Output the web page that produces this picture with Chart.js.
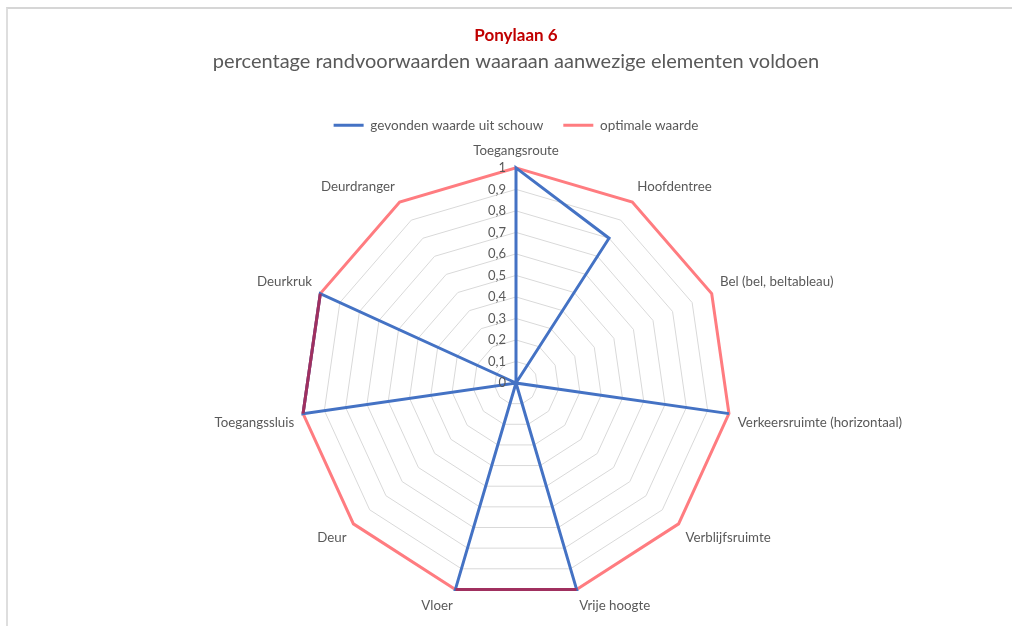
<!DOCTYPE html>
<html>
<head>
<meta charset="utf-8">
<script src="https://cdn.jsdelivr.net/npm/chart.js@4.4.1/dist/chart.umd.min.js"></script>
<style>
  html, body { margin: 0; padding: 0; background: #fff; }
  #wrap { position: absolute; left: 0; top: 0; width: 1012px; height: 626px; }
  #frame { position: absolute; left: 6px; top: 7px; width: 1006px; height: 619px;
           border-top: 2px solid #d6d6d6; border-left: 2px solid #dedede; }
  #chartPonylaan { position: absolute; left: 0; top: 0; }
</style>
</head>
<body>
<div id="wrap">
  <div id="frame"></div>
  <canvas id="chartPonylaan" width="1012" height="626"></canvas>
</div>
<script>
var categories = [
    'Toegangsroute',
    'Hoofdentree',
    'Bel (bel, beltableau)',
    'Verkeersruimte (horizontaal)',
    'Verblijfsruimte',
    'Vrije hoogte',
    'Vloer',
    'Deur',
    'Toegangssluis',
    'Deurkruk',
    'Deurdranger'
];
var gevonden = [1, 0.8, 0, 1, 0, 1, 1, 0, 1, 1, 0];
var optimaal = [1, 1, 1, 1, 1, 1, 1, 1, 1, 1, 1];
var tickMin = 0, tickMax = 1, tickStep = 0.1;

// where both series coincide excel shows a dark purple line
var overlap = gevonden.map(function (v, i) { return v === optimaal[i] ? v : null; });

var FONT = 'Lato, "Open Sans", sans-serif';
var GREY = '#595959';

function komma(v) {
    return Number(v.toFixed(1)).toString().replace('.', ',');
}

// tick labels to the left of the vertical axis, like excel does
var tickLabels = {
    id: 'tickLabels',
    afterDatasetsDraw: function (chart) {
        var r = chart.scales.r;
        var c = chart.ctx;
        c.save();
        c.font = '13px ' + FONT;
        c.fillStyle = GREY;
        c.textAlign = 'right';
        c.textBaseline = 'middle';
        r.ticks.forEach(function (t) {
            var d = r.getDistanceFromCenterForValue(t.value);
            c.fillText(komma(t.value), r.xCenter - 10, r.yCenter - d);
        });
        c.restore();
    }
};

// a bit less room under the legend
var tightLegend = {
    id: 'tightLegend',
    beforeInit: function (chart) {
        var lg = chart.legend;
        if (!lg) return;
        var fit = lg.fit;
        lg.fit = function () {
            fit.call(this);
            this.height -= 4;
        };
    }
};

var ctx = document.getElementById('chartPonylaan');
var myChart = new Chart(ctx, {
    type: 'radar',
    data: {
        labels: categories,
        datasets: [{
            label: 'overlap',
            data: overlap,
            borderColor: '#A0305F',
            borderWidth: 3,
            fill: false,
            pointRadius: 0,
            spanGaps: false
        }, {
            label: 'gevonden waarde uit schouw',
            data: gevonden,
            borderColor: '#4472C4',
            backgroundColor: '#4472C4',
            borderWidth: 3,
            fill: false,
            pointRadius: 0
        }, {
            label: 'optimale waarde',
            data: optimaal,
            borderColor: '#FF7C80',
            backgroundColor: '#FF7C80',
            borderWidth: 3,
            fill: false,
            pointRadius: 0
        }]
    },
    options: {
        responsive: false,
        animation: false,
        layout: { padding: { top: 24, left: 40, right: 20, bottom: 6 } },
        plugins: {
            title: {
                display: true,
                text: 'Ponylaan 6',
                color: '#C00000',
                font: { family: FONT, size: 17, weight: 'bold' },
                padding: { top: 1, bottom: 4 }
            },
            subtitle: {
                display: true,
                text: 'percentage randvoorwaarden waaraan aanwezige elementen voldoen',
                color: GREY,
                font: { family: FONT, size: 20 },
                padding: { top: 0, bottom: 25 }
            },
            legend: {
                position: 'top',
                labels: {
                    usePointStyle: true,
                    pointStyle: 'line',
                    pointStyleWidth: 30,
                    boxHeight: 13,
                    color: GREY,
                    font: { family: FONT, size: 13.5 },
                    padding: 20,
                    filter: function (item) { return item.datasetIndex !== 0; }
                }
            },
            tooltip: { enabled: false }
        },
        scales: {
            r: {
                min: tickMin,
                max: tickMax,
                ticks: { stepSize: tickStep, display: false },
                grid: { color: '#d9d9d9', lineWidth: 1 },
                angleLines: { display: false },
                pointLabels: {
                    color: GREY,
                    font: { family: FONT, size: 13.3 },
                    padding: 9
                }
            }
        }
    },
    plugins: [tickLabels, tightLegend]
});
</script>
</body>
</html>
